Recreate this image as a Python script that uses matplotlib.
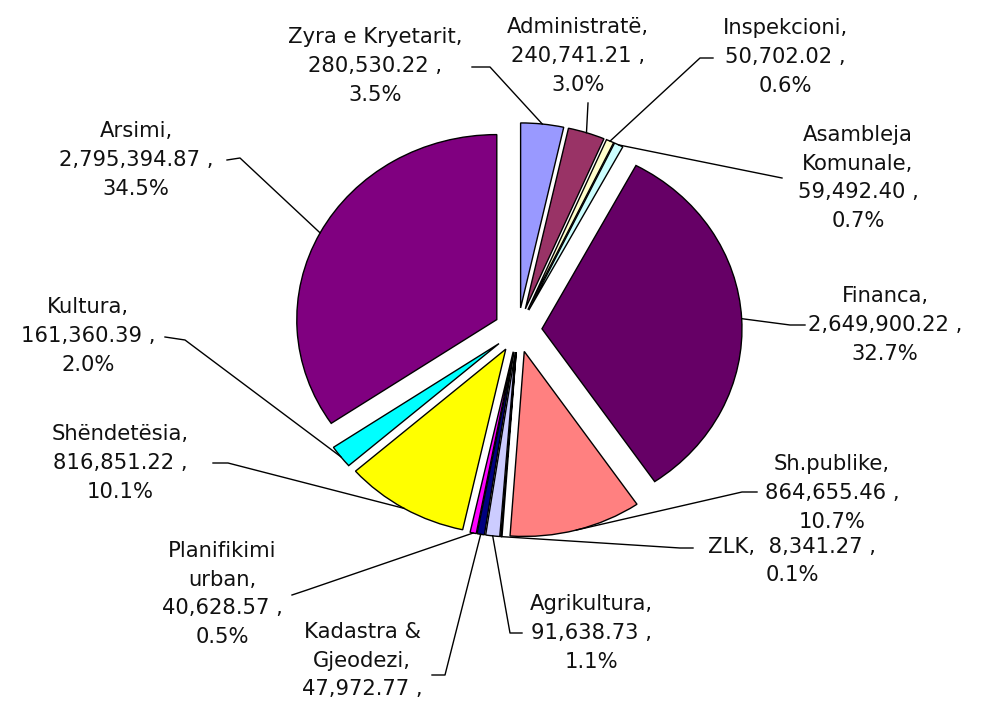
import numpy as np
import matplotlib.pyplot as plt

# budget by department, clockwise from 12 o'clock
categories = ['Zyra e Kryetarit', 'Administratë', 'Inspekcioni', 'Asambleja\nKomunale',
              'Financa', 'Sh.publike', 'ZLK', 'Agrikultura', 'Kadastra &\nGjeodezi',
              'Planifikimi\nurban', 'Shëndetësia', 'Kultura', 'Arsimi']
values = [280530.22, 240741.21, 50702.02, 59492.40, 2649900.22, 864655.46, 8341.27,
          91638.73, 47972.77, 40628.57, 816851.22, 161360.39, 2795394.87]

# excel 2003 default chart palette
colors = ['#9999FF', '#993366', '#FFFFCC', '#CCFFFF', '#660066', '#FF8080', '#0066CC',
          '#CCCCFF', '#000080', '#FF00FF', '#FFFF00', '#00FFFF', '#800080']

W, H = 988, 703
CX, CY = 518, 330     # pie centre in pixels
RX, RY = 200, 185     # the original is a bit stretched sideways

# label block centres (pixels)
label_pos = [(375, 66), (578, 56), (785, 57), (858, 178), (885, 325), (832, 493),
             (792, 561), (591, 633), (362, 675), (222, 594), (120, 463), (88, 336),
             (136, 160)]
# where the leader meets the label, plus a short stub
leader_ends = [[(472, 67), (490, 67)], [(588, 103)], [(713, 58), (700, 58)],
               [(782, 178)], [(805, 325), (790, 325)], [(757, 492), (742, 492)],
               [(693, 548), (680, 548)], [(522, 633), (510, 633)],
               [(432, 675), (445, 675)], [(292, 595), (307, 590)],
               [(213, 463), (228, 463)], [(165, 337), (185, 340)],
               [(227, 160), (240, 158)]]


def to_data(x, y):
    return (x - CX) / RX, (CY - y) / RY


fig = plt.figure(figsize=(W / 100, H / 100), dpi=100)
ax = fig.add_axes([0, 0, 1, 1])

wedges, _ = ax.pie(values, colors=colors, startangle=90, counterclock=False,
                   explode=[0.12] * len(values),
                   wedgeprops=dict(edgecolor='black', linewidth=1.0))
ax.set_aspect('auto')
ax.set_xlim(-CX / RX, (W - CX) / RX)
ax.set_ylim(-(H - CY) / RY, CY / RY)
ax.axis('off')

total = sum(values)
for i, w in enumerate(wedges):
    pct = values[i] / total * 100
    if categories[i] == 'ZLK':
        txt = f"{categories[i]},  {values[i]:,.2f} ,\n{pct:.1f}%"
    else:
        txt = f"{categories[i]},\n{values[i]:,.2f} ,\n{pct:.1f}%"
    tx, ty = to_data(*label_pos[i])
    ax.text(tx, ty, txt, ha='center', va='center', multialignment='center',
            fontsize=15.2, family='DejaVu Sans', linespacing=1.55, color='#111111')

    # leader goes to the middle of the slice's outer arc
    th = np.deg2rad((w.theta1 + w.theta2) / 2)
    ox, oy = w.center
    arc_pt = (ox + w.r * np.cos(th), oy + w.r * np.sin(th))
    pts = [to_data(*p) for p in leader_ends[i]] + [arc_pt]
    xs, ys = zip(*pts)
    ax.plot(xs, ys, color='black', linewidth=1.0, clip_on=False)

fig.savefig('out.png', dpi=100)
